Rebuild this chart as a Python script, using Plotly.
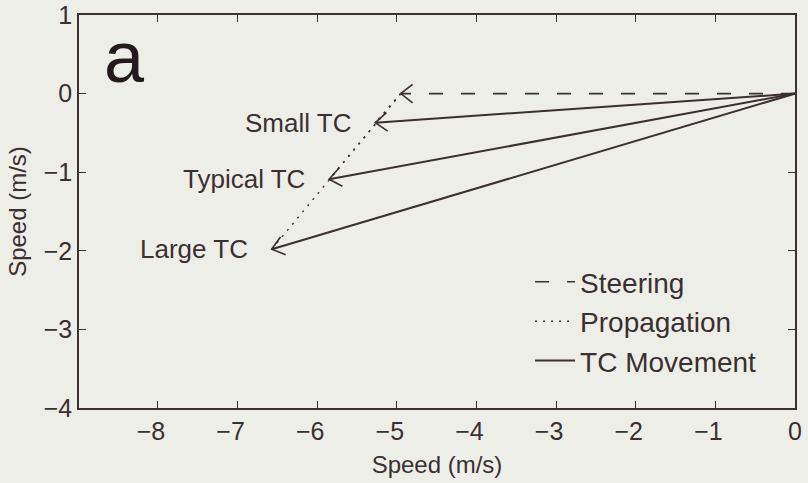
import math
import plotly.graph_objects as go

# Steering flow vector (m/s) and the resulting TC movement vectors
steer_u, steer_v = -4.95, 0.0
tc_names = ["Small TC", "Typical TC", "Large TC"]
move_u = [-5.27, -5.85, -6.57]
move_v = [-0.37, -1.09, -1.98]

x_ticks = [-8, -7, -6, -5, -4, -3, -2, -1, 0]
y_ticks = [-4, -3, -2, -1, 0, 1]

INK = "#3a2f33"
BG = "#eeeee8"
FONT = "Liberation Sans, Arial, sans-serif"

W, H = 808, 483
M = dict(l=79, r=13, t=15, b=75)
X_RANGE = [-8.99, 0]
Y_RANGE = [-4, 1]

# pixels per data unit, used to keep arrowhead barbs at a fixed on-screen angle
sx = (W - M["l"] - M["r"]) / (X_RANGE[1] - X_RANGE[0])
sy = (H - M["t"] - M["b"]) / (Y_RANGE[1] - Y_RANGE[0])
HEAD_LEN = 15      # px
HEAD_ANG = 38      # degrees


def barbs(tail, tip):
    """Open '<' arrowhead at tip, for a vector drawn from tail."""
    dx = (tail[0] - tip[0]) * sx
    dy = (tail[1] - tip[1]) * sy
    n = math.hypot(dx, dy)
    dx, dy = dx / n, dy / n
    out_x, out_y = [], []
    for s in (1, -1):
        a = math.radians(HEAD_ANG) * s
        rx = dx * math.cos(a) - dy * math.sin(a)
        ry = dx * math.sin(a) + dy * math.cos(a)
        out_x.append(tip[0] + rx * HEAD_LEN / sx)
        out_y.append(tip[1] + ry * HEAD_LEN / sy)
    return [out_x[0], tip[0], out_x[1], None], [out_y[0], tip[1], out_y[1], None]


fig = go.Figure()

# Steering: dashed from origin
fig.add_trace(go.Scatter(
    x=[0, steer_u], y=[0, steer_v], mode="lines", name="Steering",
    line=dict(color=INK, width=1.6, dash="14px,18px"),
))

# Propagation: dotted from steering tip to each movement tip
prop_x, prop_y = [], []
for u, v in zip(move_u, move_v):
    prop_x += [steer_u, u, None]
    prop_y += [steer_v, v, None]
fig.add_trace(go.Scatter(
    x=prop_x, y=prop_y, mode="lines", name="Propagation",
    line=dict(color=INK, width=1.4, dash="2px,6px"),
))

# TC movement: solid from origin
mv_x, mv_y = [], []
for u, v in zip(move_u, move_v):
    mv_x += [0, u, None]
    mv_y += [0, v, None]
fig.add_trace(go.Scatter(
    x=mv_x, y=mv_y, mode="lines", name="TC Movement",
    line=dict(color=INK, width=2),
))

# arrowheads
hx, hy = barbs((0, 0), (steer_u, steer_v))
for u, v in zip(move_u, move_v):
    bx, by = barbs((0, 0), (u, v))
    hx += bx
    hy += by
fig.add_trace(go.Scatter(
    x=hx, y=hy, mode="lines", showlegend=False, hoverinfo="skip",
    line=dict(color=INK, width=1.6),
))

annotations = []
# labels at each movement tip
for name, u, v in zip(tc_names, move_u, move_v):
    annotations.append(dict(
        x=u, y=v, xref="x", yref="y", text=name, showarrow=False,
        xanchor="right", yanchor="middle", xshift=-22,
        font=dict(family=FONT, size=26, color=INK),
    ))
# panel letter
annotations.append(dict(
    x=0.032, y=1.0, xref="paper", yref="paper", text="a", showarrow=False,
    xanchor="left", yanchor="top", font=dict(family=FONT, size=72, color="#231a1d"),
))

axis_common = dict(
    showgrid=False, zeroline=False, showline=True, linecolor=INK, linewidth=1.5,
    mirror="ticks", ticks="inside", ticklen=7, tickwidth=1.2, tickcolor=INK,
    tickfont=dict(family=FONT, size=25, color=INK), automargin=False,
)


def minus(t, pad=""):
    return ("\u2212" + str(abs(t)) + pad) if t < 0 else str(t)


fig.update_layout(
    width=W, height=H,
    margin=M,
    paper_bgcolor=BG, plot_bgcolor=BG,
    font=dict(family=FONT, color=INK),
    xaxis=dict(range=X_RANGE, tickvals=x_ticks,
               ticktext=[minus(t, "\u2007") for t in x_ticks],
               title=dict(text="Speed (m/s)", font=dict(family=FONT, size=24, color=INK), standoff=12),
               **axis_common),
    yaxis=dict(range=Y_RANGE, tickvals=y_ticks, ticktext=[minus(t) for t in y_ticks],
               title=dict(text="Speed (m/s)", font=dict(family=FONT, size=24, color=INK), standoff=10),
               **axis_common),
    showlegend=True,
    legend=dict(x=0.63, y=0.384, xanchor="left", yanchor="top",
                bgcolor="rgba(0,0,0,0)", font=dict(family=FONT, size=28, color=INK),
                itemwidth=40, tracegroupgap=0),
    annotations=annotations,
)

fig.write_html("out.html")
